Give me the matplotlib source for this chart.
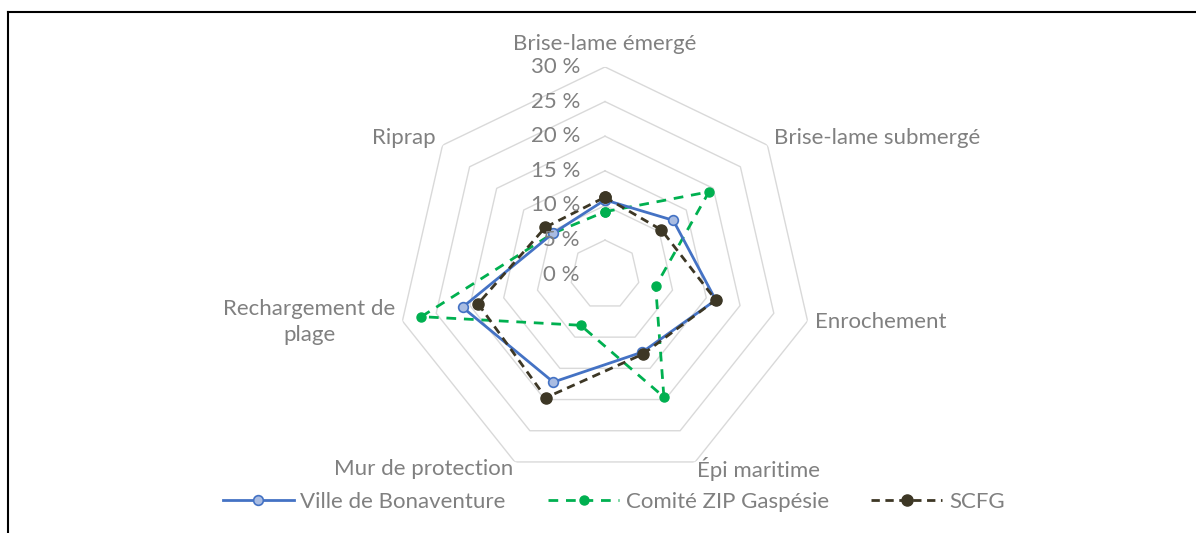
import numpy as np
import matplotlib
matplotlib.use('Agg')
import matplotlib.pyplot as plt
from matplotlib.lines import Line2D

plt.rcParams['font.family'] = ['Lato', 'DejaVu Sans']

categories = ['Brise-lame émergé', 'Brise-lame submergé', 'Enrochement', 'Épi maritime',
              'Mur de protection', 'Rechargement de\nplage', 'Riprap']
ville = [10.8, 12.6, 16.4, 12.4, 17.2, 21.1, 9.6]
comite = [9.1, 19.2, 7.5, 19.6, 8.1, 27.2, 9.6]
scfg = [11.2, 10.4, 16.4, 12.7, 19.7, 18.8, 11.0]
rticks = [0, 5, 10, 15, 20, 25, 30]
series_names = ['Ville de Bonaventure', 'Comité ZIP Gaspésie', 'SCFG']

grey = '#808080'
fs = 16
fig = plt.figure(figsize=(11.96, 5.33), dpi=100)
ax = fig.add_axes([0.3321, 0.0947, 0.3475, 0.7797], projection='polar')
ax.set_theta_offset(np.pi / 2)
ax.set_theta_direction(-1)
ax.set_ylim(0, 30)
ax.grid(False)
ax.spines['polar'].set_visible(False)
ax.set_xticks([])
ax.set_yticks([])
ax.patch.set_alpha(0)

n = len(categories)
theta = np.arange(n) * 2 * np.pi / n
theta_c = np.append(theta, theta[0])

# heptagon gridlines
for r in rticks[1:]:
    ax.plot(theta_c, [r] * (n + 1), color='#D9D9D9', lw=1.0, zorder=1)

def closed(v):
    return list(v) + [v[0]]

blue_kw = dict(color='#4472C4', lw=2.0, marker='o', ms=7, mfc='#A9BCE2', mec='#4472C4', mew=1.2)
green_kw = dict(color='#00B050', lw=2.0, ls=(0, (3.5, 2.8)), marker='o', ms=6.5,
                mfc='#00B050', mec='#00B050')
dark_kw = dict(color='#3D3725', lw=2.0, ls=(0, (3, 2)), marker='o', ms=8,
               mfc='#3D3725', mec='#3D3725')

ax.plot(theta_c, closed(ville), zorder=4, **blue_kw)
ax.plot(theta_c, closed(comite), zorder=3, **green_kw)
ax.plot(theta_c, closed(scfg), zorder=5, **dark_kw)

# radial labels
for r in rticks:
    ax.annotate(f'{r} %', xy=(0, r), xytext=(-25, 0), textcoords='offset pixels',
                ha='right', va='center', color=grey, fontsize=fs, zorder=6)

# category labels
offsets = [(0, 23), (7, 7), (7, -1), (2, -7), (-2, -7), (-7, -1), (-7, 7)]
for t, lab, off in zip(theta, categories, offsets):
    s = np.sin(t)
    ha = 'center' if abs(s) < 0.1 else ('left' if s > 0 else 'right')
    ax.annotate(lab, xy=(t, 30), xytext=off, textcoords='offset pixels',
                ha=ha, va='center', color=grey, fontsize=fs, multialignment='center',
                linespacing=1.35)

handles = [Line2D([], [], **blue_kw), Line2D([], [], **green_kw), Line2D([], [], **dark_kw)]
fig.legend(handles, series_names, loc='center', bbox_to_anchor=(0.513, 1 - 502 / 533), ncol=3,
           frameon=False, fontsize=fs, labelcolor=grey, handlelength=3.2,
           columnspacing=1.9, handletextpad=0.3)

# outer border (top and left only)
fig.add_artist(Line2D([8 / 1196, 8 / 1196], [0, 1 - 12 / 533], color='black', lw=1.5,
                      transform=fig.transFigure))
fig.add_artist(Line2D([8 / 1196, 1], [1 - 12 / 533, 1 - 12 / 533], color='black', lw=1.5,
                      transform=fig.transFigure))

fig.savefig('out.png', dpi=100, facecolor='white')
